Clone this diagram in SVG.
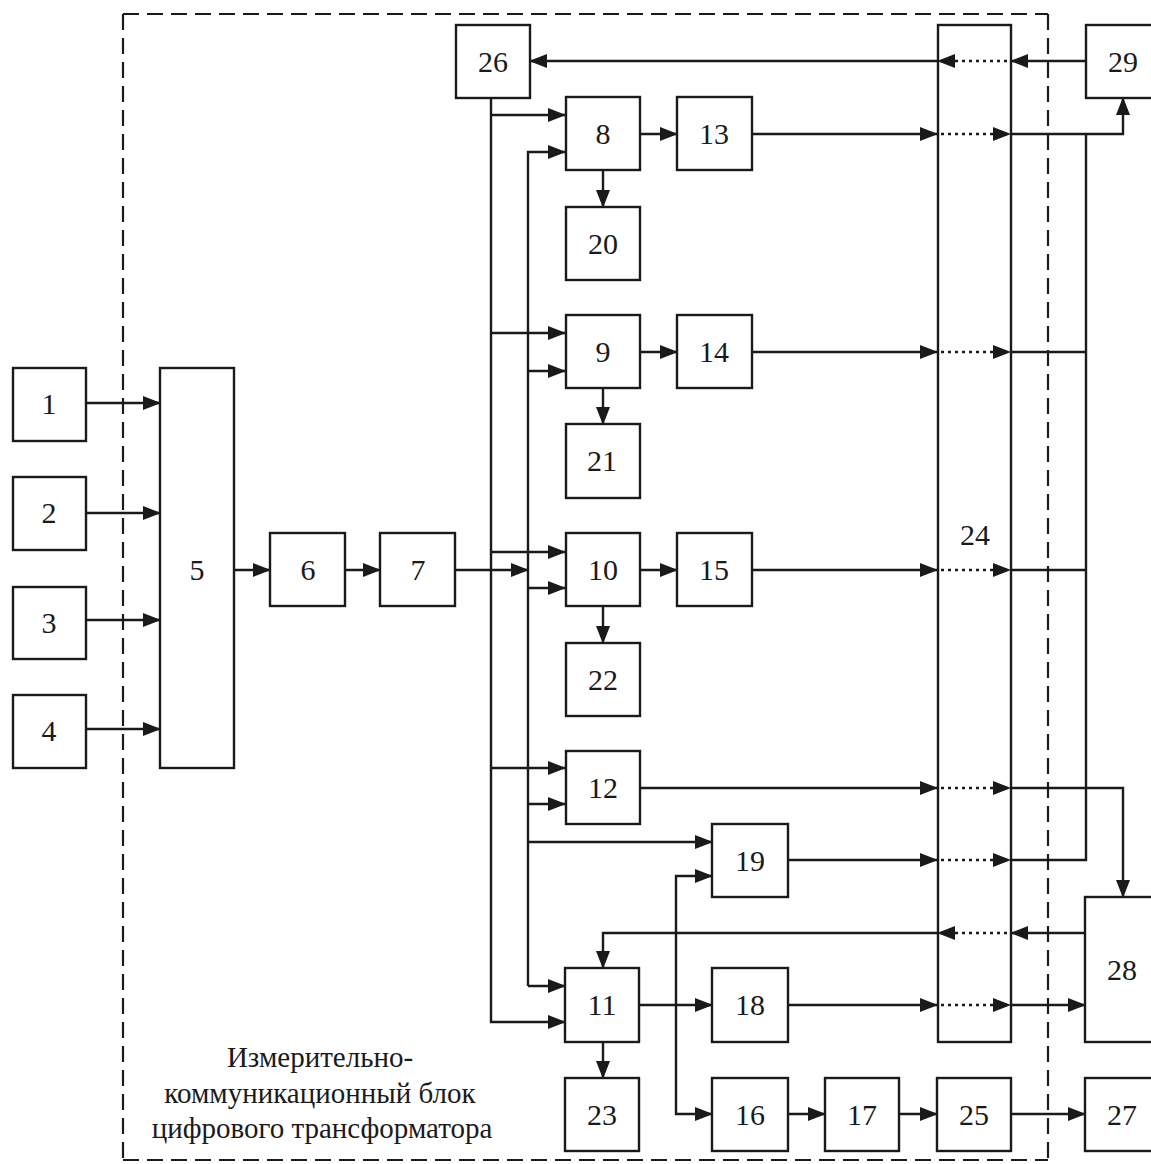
<svg xmlns="http://www.w3.org/2000/svg" width="1151" height="1164" viewBox="0 0 1151 1164">
<style>
.b{fill:#fff;stroke:#1a1a1a;stroke-width:2.4}
.l{fill:none;stroke:#1a1a1a;stroke-width:2.4}
.d{fill:none;stroke:#1a1a1a;stroke-width:2.4;stroke-dasharray:3 4}
.f{fill:none;stroke:#1a1a1a;stroke-width:2.2;stroke-dasharray:16 8}
.t{font-family:'Liberation Serif','DejaVu Serif',serif;font-size:30px;text-anchor:middle;fill:#1a1a1a}
.c{font-family:'Liberation Serif','DejaVu Serif',serif;font-size:29px;text-anchor:middle;fill:#1a1a1a}
</style>
<defs>
<marker id="a" markerUnits="userSpaceOnUse" markerWidth="18" markerHeight="14" refX="17" refY="7" orient="auto" viewBox="0 0 18 14">
<path d="M0,0 L18,7 L0,14 z" fill="#1a1a1a" stroke="none"/>
</marker>
</defs>
<rect width="1151" height="1164" fill="#fff"/>
<g id="frame">
<path class="f" d="M123,14 H1048"/>
<path class="f" d="M1048,14 V1164"/>
<path class="f" d="M123,14 V1160"/>
<path class="f" d="M123,1160 H1048"/>
<text class="c" font-family="Liberation Serif, serif" x="320" y="1067">Измерительно-</text>
<text class="c" font-family="Liberation Serif, serif" x="320" y="1103">коммуникационный блок</text>
<text class="c" font-family="Liberation Serif, serif" x="322" y="1138">цифрового трансформатора</text>
</g>
<g id="connectors" marker-end="url(#a)">
<path class="l" d="M86,403 H160"/>
<path class="l" d="M86,513 H160"/>
<path class="l" d="M86,620 H160"/>
<path class="l" d="M86,729 H160"/>
<path class="l" d="M234,570 H270"/>
<path class="l" d="M345,570 H380"/>
<path class="l" d="M455,570 H528"/>
<path class="l" d="M491,98 V1022 H565"/>
<path class="l" d="M491,115 H565"/>
<path class="l" d="M491,333 H565"/>
<path class="l" d="M491,552 H565"/>
<path class="l" d="M491,768 H565"/>
<path class="l" d="M528,986 V152 H565"/>
<path class="l" d="M528,371 H565"/>
<path class="l" d="M528,588 H565"/>
<path class="l" d="M528,804 H565"/>
<path class="l" d="M528,842 H712"/>
<path class="l" d="M528,986 H565"/>
<path class="l" d="M603,170 V207"/>
<path class="l" d="M603,388 V424"/>
<path class="l" d="M603,606 V643"/>
<path class="l" d="M603,1042 V1078"/>
<path class="l" d="M640,134 H677"/>
<path class="l" d="M640,352 H677"/>
<path class="l" d="M640,570 H677"/>
<path class="l" d="M639,1005 H712"/>
<path class="l" d="M676,1005 V876 H712"/>
<path class="l" d="M676,1005 V1114 H712"/>
<path class="l" d="M788,1114 H825"/>
<path class="l" d="M899,1114 H937"/>
<path class="l" d="M1011,1114 H1085"/>
<path class="l" d="M752,134 H937"/>
<path class="d" d="M941,134 H1010"/>
<path class="l" d="M1010,134 H1123 V98"/>
<path class="l" d="M752,352 H937"/>
<path class="d" d="M941,352 H1010"/>
<path class="l" d="M1010,352 H1086" marker-end="none"/>
<path class="l" d="M752,570 H937"/>
<path class="d" d="M941,570 H1010"/>
<path class="l" d="M1010,570 H1086" marker-end="none"/>
<path class="l" d="M640,788 H937"/>
<path class="d" d="M941,788 H1010"/>
<path class="l" d="M1010,788 H1123 V897"/>
<path class="l" d="M788,860 H937"/>
<path class="d" d="M941,860 H1010"/>
<path class="l" d="M1010,860 H1086 V134" marker-end="none"/>
<path class="l" d="M788,1005 H937"/>
<path class="d" d="M941,1005 H1010"/>
<path class="l" d="M1010,1005 H1085"/>
<path class="l" d="M1085,933 H1011"/>
<path class="d" d="M1007,933 H938"/>
<path class="l" d="M938,933 H603 V968"/>
<path class="l" d="M1085,61 H1011"/>
<path class="d" d="M1007,61 H938"/>
<path class="l" d="M938,61 H530"/>
</g>
<g id="n1"><rect class="b" x="13" y="368" width="73" height="73"/><text class="t" x="49" y="414">1</text></g>
<g id="n2"><rect class="b" x="13" y="477" width="73" height="73"/><text class="t" x="49" y="523">2</text></g>
<g id="n3"><rect class="b" x="13" y="587" width="73" height="72"/><text class="t" x="49" y="633">3</text></g>
<g id="n4"><rect class="b" x="13" y="695" width="73" height="73"/><text class="t" x="49" y="741">4</text></g>
<g id="n5"><rect class="b" x="160" y="368" width="74" height="400"/><text class="t" x="197" y="580">5</text></g>
<g id="n6"><rect class="b" x="270" y="533" width="75" height="73"/><text class="t" x="308" y="580">6</text></g>
<g id="n7"><rect class="b" x="380" y="533" width="75" height="73"/><text class="t" x="418" y="580">7</text></g>
<g id="n26"><rect class="b" x="456" y="25" width="74" height="73"/><text class="t" x="493" y="72">26</text></g>
<g id="n8"><rect class="b" x="566" y="97" width="74" height="73"/><text class="t" x="603" y="144">8</text></g>
<g id="n13"><rect class="b" x="677" y="97" width="75" height="73"/><text class="t" x="714" y="144">13</text></g>
<g id="n20"><rect class="b" x="566" y="207" width="74" height="73"/><text class="t" x="603" y="254">20</text></g>
<g id="n9"><rect class="b" x="566" y="315" width="74" height="73"/><text class="t" x="603" y="362">9</text></g>
<g id="n14"><rect class="b" x="677" y="315" width="75" height="73"/><text class="t" x="714" y="362">14</text></g>
<g id="n21"><rect class="b" x="566" y="424" width="74" height="74"/><text class="t" x="602" y="471">21</text></g>
<g id="n10"><rect class="b" x="566" y="533" width="74" height="73"/><text class="t" x="603" y="580">10</text></g>
<g id="n15"><rect class="b" x="677" y="533" width="75" height="73"/><text class="t" x="714" y="580">15</text></g>
<g id="n22"><rect class="b" x="566" y="643" width="74" height="73"/><text class="t" x="603" y="690">22</text></g>
<g id="n12"><rect class="b" x="566" y="751" width="74" height="73"/><text class="t" x="603" y="798">12</text></g>
<g id="n19"><rect class="b" x="712" y="824" width="76" height="73"/><text class="t" x="750" y="871">19</text></g>
<g id="n11"><rect class="b" x="565" y="968" width="74" height="74"/><text class="t" x="602" y="1015">11</text></g>
<g id="n18"><rect class="b" x="712" y="968" width="76" height="74"/><text class="t" x="750" y="1015">18</text></g>
<g id="n23"><rect class="b" x="565" y="1078" width="74" height="73"/><text class="t" x="602" y="1125">23</text></g>
<g id="n16"><rect class="b" x="712" y="1078" width="76" height="73"/><text class="t" x="750" y="1125">16</text></g>
<g id="n17"><rect class="b" x="825" y="1078" width="74" height="73"/><text class="t" x="862" y="1125">17</text></g>
<g id="n25"><rect class="b" x="937" y="1078" width="74" height="73"/><text class="t" x="974" y="1125">25</text></g>
<g id="n27"><rect class="b" x="1085" y="1078" width="80" height="73"/><text class="t" x="1122" y="1125">27</text></g>
<g id="n28"><rect class="b" x="1085" y="897" width="80" height="145"/><text class="t" x="1122" y="980">28</text></g>
<g id="n29"><rect class="b" x="1086" y="25" width="80" height="73"/><text class="t" x="1123" y="72">29</text></g>
<g id="n24"><rect class="l" x="938" y="25" width="73" height="1017"/><text class="t" x="975" y="545">24</text></g>
</svg>
